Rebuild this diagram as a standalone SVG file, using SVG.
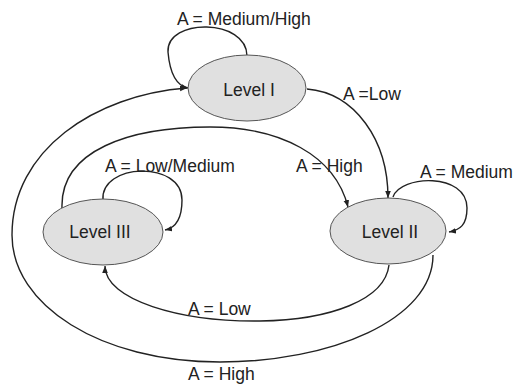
<svg xmlns="http://www.w3.org/2000/svg" width="515" height="385" viewBox="0 0 515 385">
<defs>
<style>
.node ellipse{fill:#e0e0e0;stroke:#555;stroke-width:1}
text{font-family:"Liberation Sans",Arial,sans-serif;font-size:17.5px;fill:#222}
.nl{text-anchor:middle}
.edge{fill:none;stroke:#222;stroke-width:1.4;marker-end:url(#arr)}
</style>
<marker id="arr" viewBox="0 0 10 10" refX="10" refY="5" markerWidth="7" markerHeight="7" markerUnits="userSpaceOnUse" orient="auto">
<path d="M0,1 L10,5 L0,9 z" fill="#222"/>
</marker>
</defs>
<rect width="515" height="385" fill="#fff"/>
<g id="connectors">
<path class="edge" d="M247,56 C247,18 166,18 168,52 C170,75 178,86 188,88"/>
<path class="edge" d="M307,89 C355,93 388,140 388,198"/>
<path class="edge" d="M393,197 C400,175 467,172 467,208 C467,225 460,230 449,232"/>
<path class="edge" d="M62,208 C60,150 130,127 210,127 C280,127 335,155 348,207"/>
<path class="edge" d="M103,200 C100,163 182,160 182,200 C182,220 175,228 165,230"/>
<path class="edge" d="M389,265 C385,300 330,320 260,321 C180,322 105,300 105,266"/>
<path class="edge" d="M433,255 C433,320 330,362 220,362 C100,362 12,305 12,235 C12,150 95,95 187,88"/>
</g>
<g id="level1" class="node">
<ellipse cx="247" cy="88" rx="59" ry="33"/>
<text class="nl" x="249" y="96">Level I</text>
</g>
<g id="level2" class="node">
<ellipse cx="388" cy="231" rx="58" ry="33"/>
<text class="nl" x="390" y="238">Level II</text>
</g>
<g id="level3" class="node">
<ellipse cx="103" cy="232" rx="60" ry="33"/>
<text class="nl" x="100" y="238">Level III</text>
</g>
<g id="labels">
<text x="177" y="25">A = Medium/High</text>
<text x="343" y="100">A =Low</text>
<text x="420" y="178">A = Medium</text>
<text x="296" y="172">A = High</text>
<text x="105" y="172">A = Low/Medium</text>
<text x="188" y="315">A = Low</text>
<text x="188" y="380">A = High</text>
</g>
</svg>
